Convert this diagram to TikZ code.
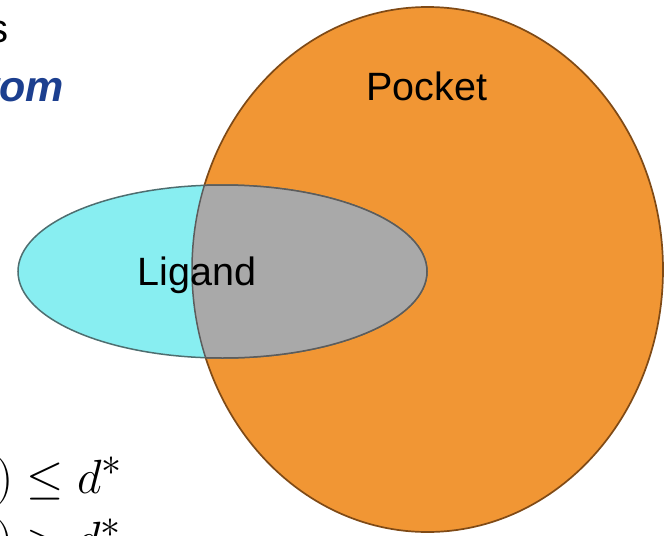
\documentclass[tikz,border=0pt]{standalone}
\usepackage{graphicx}
\usepackage{fontspec}
\usepackage{tikz}
\usetikzlibrary{positioning}
\newfontfamily\vennfont{Liberation Sans}
\definecolor{pocketorange}{HTML}{F19634}
\definecolor{pocketedge}{HTML}{7F4A16}
\definecolor{ligandcyan}{HTML}{88EEF1}
\definecolor{ligandedge}{HTML}{4E6E70}
\definecolor{overlapgrey}{HTML}{A9A9A9}
\definecolor{overlapedge}{HTML}{5C5C5C}
\definecolor{slideblue}{HTML}{1C3F8F}
\newcommand{\bigmath}[1]{\scalebox{1.93}{\Huge$#1$}}

\begin{document}
\begin{tikzpicture}[
    x=1pt, y=-1pt,
    every node/.style={inner sep=0pt, outer sep=0pt},
    pocket/.style={fill=pocketorange, draw=pocketedge, line width=1.7pt},
    ligand/.style={fill=ligandcyan, draw=ligandedge, line width=1.5pt},
    overlap/.style={fill=overlapgrey},
    overlapline/.style={draw=overlapedge, line width=1.5pt},
    setlabel/.style={font=\vennfont\fontsize{39.5}{42}\selectfont, text=black},
    cutword/.style={font=\vennfont\fontsize{40}{44}\selectfont},
    cutmath/.style={anchor=base west}
  ]
  \useasboundingbox (0,0) rectangle (665,536);

  % ---------- les deux ensembles -------------
  \draw[pocket] (427.5,269.5) ellipse [x radius=235.5pt, y radius=262.5pt];
  \draw[ligand] (222.5,271.5) ellipse [x radius=204.5pt, y radius=86.5pt];

  % ---------- intersection ligand / poche -------------
  \begin{scope}
    \clip (427.5,269.5) ellipse [x radius=235.5pt, y radius=262.5pt];
    \fill[overlap] (222.5,271.5) ellipse [x radius=204.5pt, y radius=86.5pt];
    \draw[overlapline] (222.5,271.5) ellipse [x radius=204.5pt, y radius=86.5pt];
  \end{scope}
  \begin{scope}
    \clip (222.5,271.5) ellipse [x radius=204.5pt, y radius=86.5pt];
    \draw[overlapline] (427.5,269.5) ellipse [x radius=235.5pt, y radius=262.5pt];
  \end{scope}

  \node[setlabel, anchor=base] (pocket) at (427,100) {Pocket};
  \node[setlabel, anchor=base] (ligand) at (197,285) {Ligand};

  % ---------- restes de la diapositive, coupes au bord -------------
  \node[cutword, anchor=base east] (wordtop) at (9,42) {s};
  \node[cutword, anchor=base east, text=slideblue, font=\vennfont\bfseries\itshape\fontsize{43}{48}\selectfont]
    (wordblue) at (64,101) {rom};
  \node[cutmath] (leq) at (-4,493) {\bigmath{)\leq d^*}};
  \node[cutmath] (gt) at (-4,555) {\bigmath{)> d^*}};

\end{tikzpicture}
\end{document}
